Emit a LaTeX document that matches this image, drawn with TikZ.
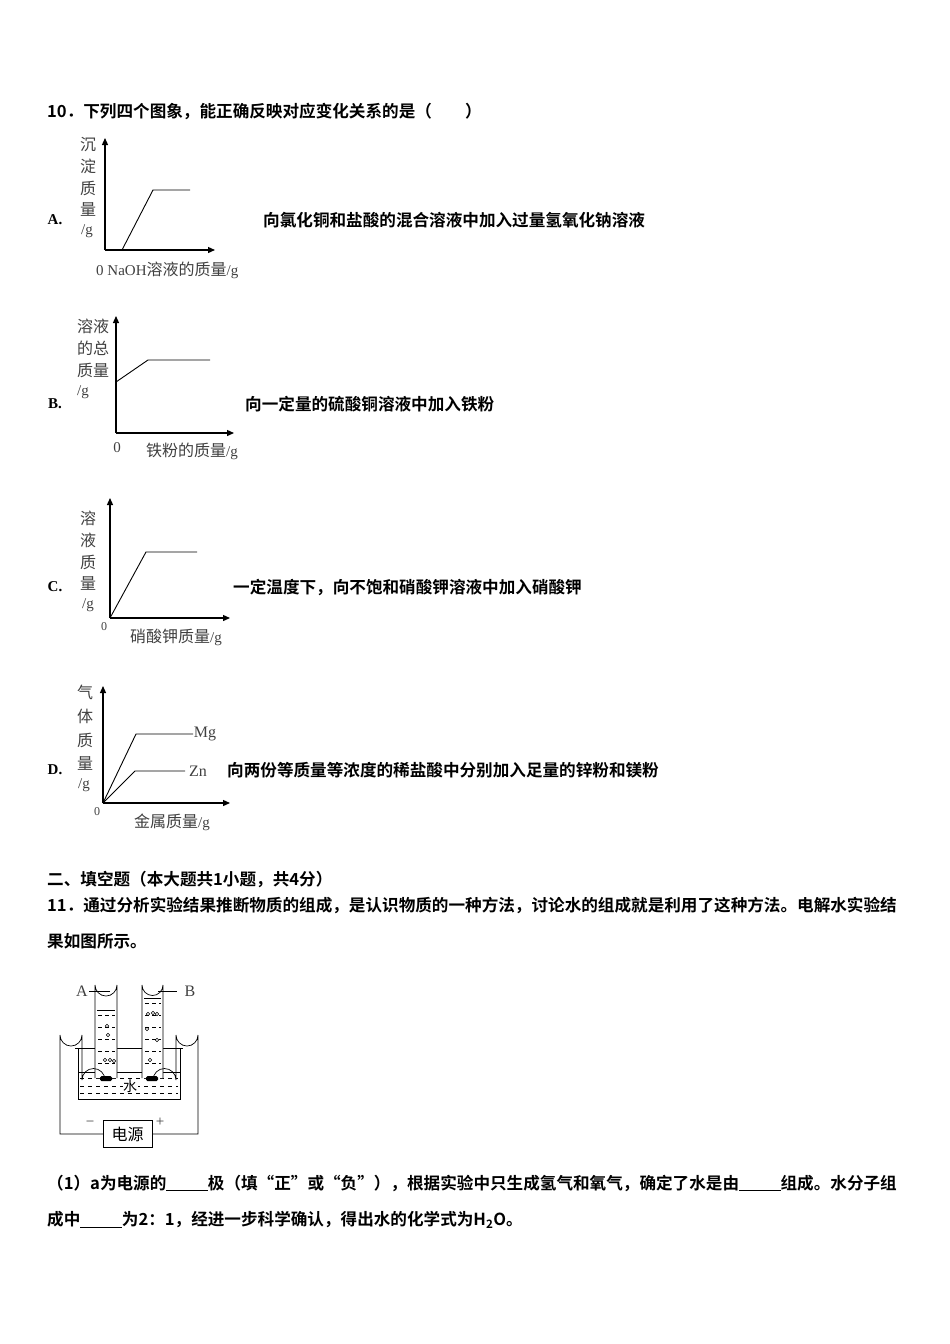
\documentclass[tikz,border=0pt]{standalone}
\usepackage{fontspec}
\setmainfont{Liberation Serif}
\newfontfamily\cjk{Noto Sans CJK SC}
\newfontfamily\cjkb{Noto Sans CJK SC Bold}
\newcommand\lt[1]{{\rmfamily\fontsize{15}{15}\selectfont #1}}
\usetikzlibrary{arrows.meta}
\begin{document}
\begin{tikzpicture}[x=1pt,y=-1pt,
 ax/.style={line width=1.3pt,-{Triangle[length=7pt,width=6pt]}},
 crv/.style={line width=0.9pt},
 lab/.style={font=\cjk\fontsize{16}{16}\selectfont,text=black!75,inner sep=0},
 num/.style={font=\rmfamily\fontsize{15}{15}\selectfont,text=black!75,inner sep=0},
 txt/.style={font=\cjkb\fontsize{16.6}{17}\selectfont,anchor=west,inner sep=0},
 opt/.style={font=\bfseries\fontsize{15}{15}\selectfont,inner sep=0}]
\useasboundingbox (0,0) rectangle (950,1344);
\node[txt] (q10) at (47,111) {10．下列四个图象，能正确反映对应变化关系的是（\hspace{2em}）};
% A
\coordinate (oa) at (105,250);
\draw[ax] (oa) -- (105,138);
\draw[ax] (oa) -- (215,250);
\draw[crv] (122,250) -- (153,190) -- (190,190);
\foreach \c/\y in {沉/145,淀/166,质/188,量/209}{\node[lab] at (88,\y) {\c};}
\node[num] at (87,231) {/g};
\node[lab,anchor=west] (xa) at (96,270) {\lt{0 NaOH}溶液的质量\lt{/g}};
\node[opt] (la) at (55,220) {A.};
\node[txt] (ta) at (263,220) {向氯化铜和盐酸的混合溶液中加入过量氢氧化钠溶液};
% B
\coordinate (ob) at (116,433);
\draw[ax] (ob) -- (116,316);
\draw[ax] (ob) -- (234,433);
\draw[crv] (116,382) -- (148,360) -- (210,360);
\foreach \c/\y in {溶液/326,的总/348,质量/370}{\node[lab] at (93,\y) {\c};}
\node[num] at (83,392) {/g};
\node[num] at (117,448) {0};
\node[lab] (xb) at (192,451) {铁粉的质量\lt{/g}};
\node[opt] (lb) at (55,404) {B.};
\node[txt] (tb) at (245,404) {向一定量的硫酸铜溶液中加入铁粉};
% C
\coordinate (oc) at (110,618);
\draw[ax] (oc) -- (110,498);
\draw[ax] (oc) -- (230,618);
\draw[crv] (110,618) -- (146,552) -- (197,552);
\foreach \c/\y in {溶/518,液/540,质/562,量/583}{\node[lab] at (88,\y) {\c};}
\node[num] at (88,605) {/g};
\node[num,font=\rmfamily\fontsize{12}{12}\selectfont] at (104,627) {0};
\node[lab] (xc) at (176,637) {硝酸钾质量\lt{/g}};
\node[opt] (lc) at (55,587) {C.};
\node[txt] (tc) at (233,587) {一定温度下，向不饱和硝酸钾溶液中加入硝酸钾};
% D
\coordinate (od) at (103,803);
\draw[ax] (od) -- (103,686);
\draw[ax] (od) -- (230,803);
\draw[crv] (103,803) -- (136,734) -- (193,734);
\draw[crv] (103,803) -- (135,771) -- (185,771);
\node[num,font=\rmfamily\fontsize{16}{16}\selectfont] (mg) at (205,734) {Mg};
\node[num,font=\rmfamily\fontsize{16}{16}\selectfont] (zn) at (198,771) {Zn};
\foreach \c/\y in {气/692,体/716,质/740,量/763}{\node[lab] at (85,\y) {\c};}
\node[num] at (84,785) {/g};
\node[num,font=\rmfamily\fontsize{12}{12}\selectfont] at (97,812) {0};
\node[lab] (xd) at (172,822) {金属质量\lt{/g}};
\node[opt] (ld) at (55,770) {D.};
\node[txt] (td) at (227,770) {向两份等质量等浓度的稀盐酸中分别加入足量的锌粉和镁粉};
% section
\node[txt] (sec) at (47,879) {二、填空题（本大题共1小题，共4分）};
\node[txt] (q11a) at (47,905) {11．通过分析实验结果推断物质的组成，是认识物质的一种方法，讨论水的组成就是利用了这种方法。电解水实验结};
\node[txt] (q11b) at (47,941) {果如图所示。};
% apparatus
\begin{scope}[line width=0.7pt]
\draw (78,1048) -- (78,1099) -- (180,1099) -- (180,1048);
\draw (75,1048) -- (183,1048);
\draw (78,1072) -- (180,1072);
\foreach \y in {1078,1086,1093}{\draw[dashed,dash pattern=on 4pt off 4pt] (80,\y) -- (178,\y);}
% tubes
\draw[fill=white] (95,1078) -- (95,985) arc[start angle=180,end angle=0,radius=11] -- (117,1078);
\draw[fill=white] (142,1078) -- (142,985) arc[start angle=180,end angle=0,radius=10.5] -- (163,1078);
\foreach \y in {1015,1027,1039,1051,1063}{\draw[dashed,dash pattern=on 4pt off 3pt] (98,\y) -- (115,\y);}
\foreach \y in {1003,1015,1027,1039,1051,1063}{\draw[dashed,dash pattern=on 4pt off 3pt] (145,\y) -- (161,\y);}
\draw (97,1010) -- (115,1010);
\draw (144,998) -- (161,998);
\foreach \p in {(107,1026),(108,1035),(105,1060),(110,1060),(114,1061)}{\draw[line width=0.5pt] \p circle (1.7);}
\foreach \p in {(148,1014),(153,1013),(157,1014),(147,1029),(157,1040),(150,1060)}{\draw[line width=0.5pt] \p circle (1.7);}
\fill[black,rounded corners=1.5pt] (100,1076) rectangle (112,1081);
\fill[black,rounded corners=1.5pt] (146,1076) rectangle (158,1081);
% wires
\draw (103,1134) -- (60,1134) -- (60,1035) arc[start angle=180,end angle=0,radius=11] -- (82,1080) arc[start angle=180,end angle=360,radius=11.5] -- (105,1080);
\draw (152,1134) -- (198,1134) -- (198,1035) arc[start angle=0,end angle=180,radius=11] -- (176,1080) arc[start angle=360,end angle=180,radius=11.5] -- (153,1080);
\node[draw,minimum width=49pt,minimum height=27pt,inner sep=0,font=\cjk\fontsize{16}{16}\selectfont] (ps) at (127.5,1134) {电源};
\end{scope}
\node[fill=white,inner sep=0.5pt,font=\cjk\fontsize{14}{14}\selectfont] (water) at (130,1086) {水};
\node[num,font=\rmfamily\fontsize{16}{16}\selectfont] (a) at (82,991) {A};
\draw[line width=0.7pt] (89,991) -- (110,991);
\node[num,font=\rmfamily\fontsize{16}{16}\selectfont] (b) at (190,991) {B};
\draw[line width=0.7pt] (158,991) -- (177,991);
\node[num] at (90,1124) {−};
\node[num] at (160,1122) {+};
% fill-in
\node[txt] (f1) at (47,1183) {（1）a为电源的\underline{\hspace{2.5em}}极（填“正”或“负”），根据实验中只生成氢气和氧气，确定了水是由\underline{\hspace{2.5em}}组成。水分子组};
\node[txt] (f2) at (47,1220) {成中\underline{\hspace{2.5em}}为2：1，经进一步科学确认，得出水的化学式为H\textsubscript{2}O。};
\end{tikzpicture}
\end{document}
